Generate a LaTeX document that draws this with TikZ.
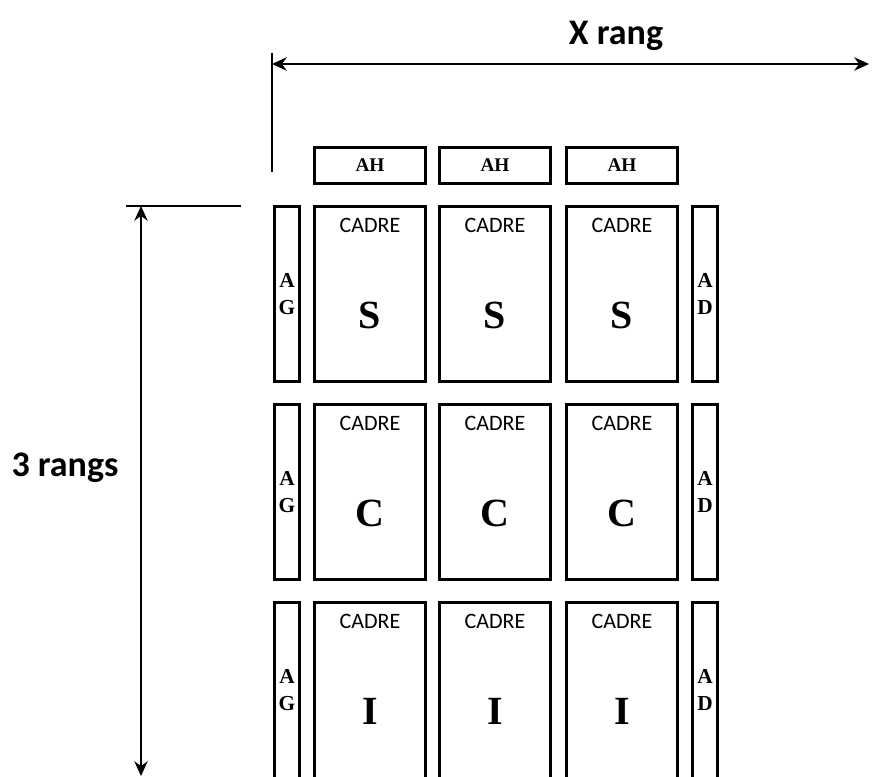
\documentclass[tikz,border=0pt]{standalone}
\usepackage{fontspec}
\setmainfont{Carlito}
\newfontfamily\cambria{Liberation Serif}
\usetikzlibrary{arrows.meta}

\tikzset{
  framebox/.style={draw, line width=2.1pt, minimum width=83.4pt, minimum height=131.4pt, inner sep=0pt},
  sidebox/.style={draw, line width=2.1pt, minimum width=18.9pt, minimum height=131.4pt, inner sep=0pt,
    font=\cambria\bfseries\fontsize{16}{20}\selectfont, align=center},
  headbox/.style={draw, line width=2.1pt, minimum width=83.1pt, minimum height=26.6pt, inner sep=0pt,
    font=\cambria\bfseries\fontsize{14.5}{16}\selectfont},
  cadre/.style={font=\fontsize{16.5}{18}\selectfont, inner sep=0pt},
  letter/.style={font=\cambria\bfseries\fontsize{30}{32}\selectfont, inner sep=0pt},
  dimlabel/.style={font=\bfseries\fontsize{27}{30}\selectfont, inner sep=0pt}
}

\begin{document}
\begin{tikzpicture}[x=0.75pt, y=-0.75pt, >={Stealth[length=11pt, width=10pt, inset=3.5pt]}]
  \useasboundingbox (0,0) rectangle (875,777);

  % Header boxes
  \foreach \c/\x in {1/370, 2/495, 3/622}
    \node[headbox] (ah\c) at (\x,165.5) {AH};

  % Rows of frames with side boxes (last row runs off the page)
  \foreach \r/\y/\t/\dy in {1/294/S/0, 2/492/C/0, 3/690/I/4} {
    \node[sidebox, minimum height={131.4pt+1.5pt*\dy}] (ag\r) at (287,\y+\dy) {};
    \node[sidebox, minimum height={131.4pt+1.5pt*\dy}] (ad\r) at (705,\y+\dy) {};
    \node[sidebox, draw=none] (agt\r) at (287,\y) {A\\G};
    \node[sidebox, draw=none] (adt\r) at (705,\y) {A\\D};
    \foreach \c/\x in {1/370, 2/495, 3/622} {
      \node[framebox, minimum height={131.4pt+1.5pt*\dy}] (fr\r\c) at (\x,\y+\dy) {};
      \node[cadre] (cd\r\c) at (\x,\y-69) {CADRE};
      \node[letter] (lt\r\c) at (\x,\y+21) {\t};
    }
  }

  % Width dimension
  \coordinate (xtop) at (272,53);
  \coordinate (xbot) at (272,172);
  \coordinate (xl) at (272,64);
  \coordinate (xr) at (869,64);
  \draw[line width=1.1pt] (xtop) -- (xbot);
  \draw[<->, line width=1.5pt] (xl) -- (xr);
  \node[dimlabel] (xrang) at (616,36) {X rang};

  % Height dimension
  \coordinate (yl) at (126,206);
  \coordinate (yr) at (241,206);
  \coordinate (yt) at (141,206);
  \coordinate (yb) at (141,776);
  \draw[line width=1.1pt] (yl) -- (yr);
  \draw[<->, line width=1.5pt] (yt) -- (yb);
  \node[dimlabel] (rangs) at (65,468) {3 rangs};
\end{tikzpicture}
\end{document}
